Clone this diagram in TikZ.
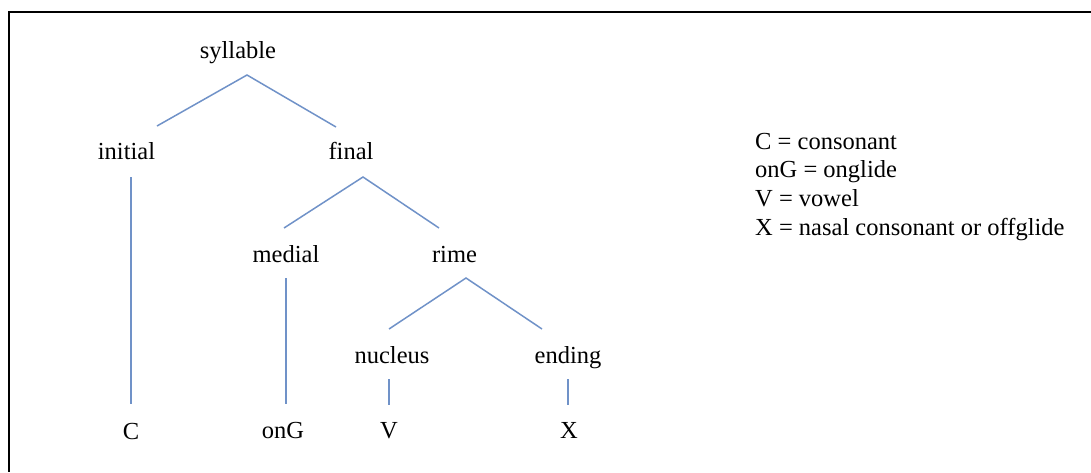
\documentclass[tikz,border=0pt]{standalone}
\usepackage{fontspec}
\setmainfont{Liberation Serif}
\usepackage{xcolor}
\usetikzlibrary{positioning}
\definecolor{treeblue}{RGB}{112,146,200}
\tikzset{
  lab/.style    = {anchor=base, inner sep=0pt, font=\fontsize{24.5}{28.7}\selectfont},
  leglab/.style = {anchor=base west, inner sep=0pt, font=\fontsize{24.5}{28.7}\selectfont},
  branch/.style = {treeblue, line width=1.5pt},
  frame/.style  = {black, line width=2pt},
}
\begin{document}
\begin{tikzpicture}[x=1pt, y=-1pt]
  \useasboundingbox (0,0) rectangle (1091,472);
  \coordinate (frametop) at (1091,12);
  \coordinate (framecorner) at (9,12);
  \coordinate (framebottom) at (9,472);
  \draw[frame] (frametop) -- (framecorner) -- (framebottom);

  % tree labels
  \node[lab] (syllable) at (238,58)    {syllable};
  \node[lab] (initial)  at (126.5,159) {initial};
  \node[lab] (final)    at (351,159)   {final};
  \node[lab] (medial)   at (286,262)   {medial};
  \node[lab] (rime)     at (454.5,262) {rime};
  \node[lab] (nucleus)  at (392,363)   {nucleus};
  \node[lab] (ending)   at (568,363)   {ending};
  \node[lab] (C)        at (131,439)   {C};
  \node[lab] (onG)      at (283,438)   {onG};
  \node[lab] (V)        at (389,438)   {V};
  \node[lab] (X)        at (569,438)   {X};

  \draw[branch] ([shift={(30.5,-33)}]initial.base) -- ([shift={(9,17)}]syllable.base)
                -- ([shift={(-15,-32)}]final.base);
  \draw[branch] ([shift={(-2,-34)}]medial.base) -- ([shift={(12,18)}]final.base)
                -- ([shift={(-15.5,-34)}]rime.base);
  \draw[branch] ([shift={(-3,-34)}]nucleus.base) -- ([shift={(11.5,16)}]rime.base)
                -- ([shift={(-26,-34)}]ending.base);
  \draw[branch] ([shift={(4.5,18)}]initial.base) -- ([shift={(0,-35)}]C.base);
  \draw[branch] ([shift={(0,16)}]medial.base)    -- ([shift={(3,-34)}]onG.base);
  \draw[branch] ([shift={(-3,16)}]nucleus.base)  -- ([shift={(0,-33)}]V.base);
  \draw[branch] ([shift={(0,16)}]ending.base)    -- ([shift={(-1,-33)}]X.base);

  % legend
  \node[leglab] (legC)   at (755,149)   {C = consonant};
  \node[leglab] (legonG) at (755,177.5) {onG = onglide};
  \node[leglab] (legV)   at (755,206)   {V = vowel};
  \node[leglab] (legX)   at (755,235)   {X = nasal consonant or offglide};
\end{tikzpicture}
\end{document}
